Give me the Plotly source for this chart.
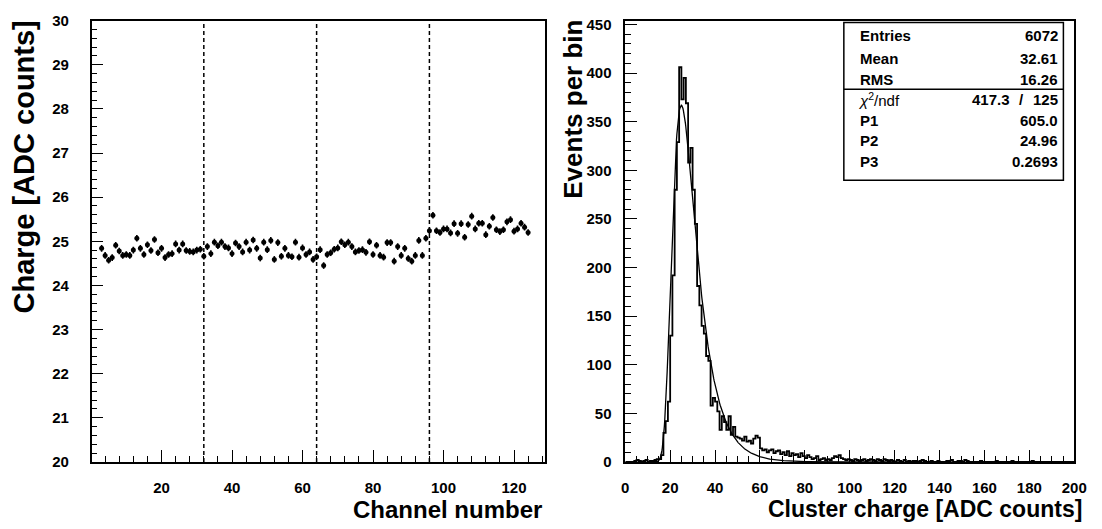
import numpy as np
import plotly.graph_objects as go

W, H = 1102, 529

# ---------------- left panel: mean charge per channel ----------------
channels = list(range(3, 125))
charge = [
    24.84, 24.68, 24.57, 24.63, 24.91, 24.78, 24.68, 24.70, 24.68, 24.80,   # 3-12
    25.07, 24.84, 24.70, 24.92, 24.79, 25.04, 24.74, 24.84, 24.63, 24.70,   # 13-22
    24.72, 24.94, 24.80, 24.94, 24.79, 24.77, 24.76, 24.80, 24.82, 24.66,   # 23-32
    24.88, 24.72, 24.98, 24.90, 24.98, 24.88, 24.85, 24.72, 24.96, 24.88,   # 33-42
    24.76, 24.98, 24.80, 25.03, 24.84, 24.62, 24.98, 24.81, 25.02, 24.59,   # 43-52
    24.97, 24.66, 24.84, 24.68, 24.65, 24.98, 24.64, 24.85, 24.70, 24.76,   # 53-62
    24.59, 24.65, 24.81, 24.45, 24.70, 24.74, 24.82, 24.85, 24.99, 24.92,   # 63-72
    24.98, 24.88, 24.76, 24.79, 24.81, 24.75, 24.99, 24.70, 24.91, 24.68,   # 73-82
    24.64, 24.97, 24.97, 24.55, 24.88, 24.68, 24.84, 24.61, 24.55, 24.68,   # 83-92
    25.02, 24.68, 25.07, 25.24, 25.59, 25.24, 25.20, 25.28, 25.28, 25.19,   # 93-102
    25.40, 25.18, 25.40, 25.09, 25.38, 25.57, 25.28, 25.41, 25.41, 25.15,   # 103-112
    25.34, 25.54, 25.26, 25.22, 25.26, 25.44, 25.49, 25.23, 25.28, 25.41,   # 113-122
    25.32, 25.20,                                                           # 123-124
]
charge_err = [0.075] * len(charge)
chip_boundaries = [32, 64, 96]

left_xticks = [20, 40, 60, 80, 100, 120]
left_yticks = [20, 21, 22, 23, 24, 25, 26, 27, 28, 29, 30]

# ---------------- right panel: cluster charge spectrum ----------------
bin_edges = list(range(0, 201))
counts = [
    0, 0, 0, 0, 1, 2, 1, 0, 1, 2,                       # 0-9
    0, 1, 1, 2, 3, 3, 7, 30, 42, 62,                    # 10-19
    130, 192, 280, 329, 406, 373, 395, 369, 308, 323,   # 20-29
    280, 245, 181, 161, 140, 132, 109, 104, 58, 66,     # 30-39
    62, 52, 33, 47, 41, 33, 47, 28, 36, 26,             # 40-49
    25, 24, 22, 26, 21, 22, 19, 24, 27, 25,             # 50-59
    14, 12, 13, 10, 12, 13, 9, 11, 12, 8,               # 60-69
    10, 7, 11, 6, 9, 7, 8, 5, 9, 6,                     # 70-79
    4, 7, 5, 3, 4, 6, 2, 3, 4, 2,                       # 80-89
    3, 2, 4, 6, 5, 7, 4, 3, 2, 3,                       # 90-99
    2, 1, 3, 2, 1, 2, 3, 1, 2, 3,                       # 100-109
    2, 1, 3, 2, 1, 3, 2, 1, 2, 1,                       # 110-119
    0, 2, 1, 0, 2, 0, 1, 0, 1, 1,                       # 120-129
    0, 1, 2, 1, 0, 0, 1, 0, 0, 1,                       # 130-139
    0, 0, 0, 1, 1, 2, 0, 0, 1, 1,                       # 140-149
    0, 2, 1, 0, 0, 0, 0, 0, 1, 0,                       # 150-159
    0, 0, 0, 0, 0, 1, 0, 0, 0, 0,                       # 160-169
    0, 0, 1, 0, 0, 0, 0, 0, 0, 0,                       # 170-179
    0, 1, 0, 0, 0, 0, 0, 0, 0, 0,                       # 180-189
    0, 0, 0, 0, 0, 0, 0, 0, 0, 0,                       # 190-199
]
right_xticks = [0, 20, 40, 60, 80, 100, 120, 140, 160, 180, 200]
right_yticks = [0, 50, 100, 150, 200, 250, 300, 350, 400, 450]

# fit parameters (Moyal-type approximation of the Landau shape)
P1, P2, P3 = 605.0, 24.96, 0.2693
fit_range = (12.0, 120.0)

stats_rows = [
    ("Entries", "6072"),
    ("Mean", "32.61"),
    ("RMS", "16.26"),
]
fit_rows = [
    ("P1", "605.0"),
    ("P2", "24.96"),
    ("P3", "0.2693"),
]
chi2_text, ndf_text = "417.3", "125"

# ---------------- geometry (pixels -> paper) ----------------
def px(x):
    return x / W


def py(y):
    return 1 - y / H


frame_top, frame_bot = 12, 468
left_x0, left_x1 = 89, 549
right_x0, right_x1 = 631, 1087

FONT = "Liberation Sans, Arial, Helvetica, sans-serif"
tickfont = dict(family=FONT, size=15, color="black")


def bold_labels(vals):
    return [f"<b>{v}</b>" for v in vals]


fig = go.Figure()

# left: data points with error bars
fig.add_trace(go.Scatter(
    x=channels, y=charge,
    mode="markers",
    marker=dict(color="black", size=5, symbol="circle"),
    error_y=dict(type="data", array=charge_err, visible=True,
                 color="black", thickness=1.6, width=0),
    xaxis="x", yaxis="y", showlegend=False, hoverinfo="skip",
))

# dashed chip boundaries
for xb in chip_boundaries:
    fig.add_shape(type="line", xref="x", yref="y", x0=xb, x1=xb, y0=20, y1=30,
                  line=dict(color="black", width=1.5, dash="4px,3px"))

# right: histogram outline
step_y = counts + [counts[-1]]
fig.add_trace(go.Scatter(
    x=bin_edges, y=step_y, mode="lines",
    line=dict(color="black", width=1.8, shape="hv"),
    xaxis="x2", yaxis="y2", showlegend=False, hoverinfo="skip",
))

# fit curve
xf = np.linspace(fit_range[0], fit_range[1], 600)
lam = P3 * (xf - P2)
yf = P1 * np.exp(-0.5 * (lam + np.exp(-lam)))
fig.add_trace(go.Scatter(
    x=xf, y=yf, mode="lines",
    line=dict(color="black", width=1.3),
    xaxis="x2", yaxis="y2", showlegend=False, hoverinfo="skip",
))

axis_common = dict(
    showgrid=False, zeroline=False, showline=True, linecolor="black",
    linewidth=1.5, mirror=True, ticks="inside", ticklen=12, tickwidth=1,
    tickcolor="black", tickfont=tickfont, tickmode="array",
)

fig.update_layout(
    width=W, height=H,
    margin=dict(l=0, r=0, t=0, b=0),
    paper_bgcolor="white", plot_bgcolor="white",
    xaxis=dict(domain=[px(left_x0), px(left_x1)], range=[0.17, 128.66],
               tickvals=left_xticks, ticktext=bold_labels(left_xticks), anchor="y",
               minor=dict(dtick=4, tick0=0, ticks="inside", ticklen=6, tickcolor="black"),
               ticklabelstandoff=11, **axis_common),
    yaxis=dict(domain=[py(frame_bot), py(frame_top)], range=[20, 30],
               tickvals=left_yticks, ticktext=bold_labels(left_yticks), anchor="x",
               minor=dict(dtick=0.2, tick0=20, ticks="inside", ticklen=6, tickcolor="black"),
               ticklabelstandoff=18, **axis_common),
    xaxis2=dict(domain=[px(right_x0), px(right_x1)], range=[0, 200],
                tickvals=right_xticks, ticktext=bold_labels(right_xticks), anchor="y2",
                minor=dict(dtick=5, tick0=0, ticks="inside", ticklen=6, tickcolor="black"),
                ticklabelstandoff=11, **axis_common),
    yaxis2=dict(domain=[py(frame_bot), py(frame_top)], range=[0, 454],
                tickvals=right_yticks, ticktext=bold_labels(right_yticks), anchor="x2",
                minor=dict(dtick=10, tick0=0, ticks="inside", ticklen=6, tickcolor="black"),
                ticklabelstandoff=9, **axis_common),
)

titlefont = dict(family=FONT, color="black", weight="bold")
annotations = [
    dict(text="Channel number", x=px(450), y=py(517), xanchor="center", yanchor="middle",
         font=dict(titlefont, size=24)),
    dict(text="Cluster charge [ADC counts]", x=px(935), y=py(517), xanchor="center",
         yanchor="middle", font=dict(titlefont, size=23)),
    dict(text="Charge [ADC counts]", x=px(20), y=py(163), xanchor="center", yanchor="middle",
         textangle=-90, font=dict(titlefont, size=29)),
    dict(text="Events per bin", x=px(578), y=py(104), xanchor="center", yanchor="middle",
         textangle=-90, font=dict(titlefont, size=26)),
]

# statistics box
box_x0, box_x1, box_y0, box_y1, sep_y = 853, 1076, 14, 177, 83
fig.add_shape(type="rect", xref="paper", yref="paper",
              x0=px(box_x0), x1=px(box_x1), y0=py(box_y1), y1=py(box_y0),
              line=dict(color="black", width=1.5), fillcolor="white")
fig.add_shape(type="line", xref="paper", yref="paper",
              x0=px(box_x0), x1=px(box_x1), y0=py(sep_y), y1=py(sep_y),
              line=dict(color="black", width=1.5))

statfont = dict(family=FONT, size=15, color="black", weight="bold")
row_y_top = [27.7, 50.7, 73.3]
for (lab, val), yy in zip(stats_rows, row_y_top):
    annotations.append(dict(text=lab, x=px(867), y=py(yy), xanchor="left", yanchor="middle",
                            font=statfont))
    annotations.append(dict(text=val, x=px(1073), y=py(yy), xanchor="right", yanchor="middle",
                            font=statfont))

annotations.append(dict(text="<i>χ</i><sup>2</sup>/ndf", x=px(865), y=py(93.5),
                        xanchor="left", yanchor="middle",
                        font=dict(family=FONT, size=15, color="black")))
annotations.append(dict(text=chi2_text, x=px(1024), y=py(93.5), xanchor="right",
                        yanchor="middle", font=statfont))
annotations.append(dict(text="/", x=px(1033), y=py(93.5), xanchor="center",
                        yanchor="middle", font=statfont))
annotations.append(dict(text=ndf_text, x=px(1073), y=py(93.5), xanchor="right",
                        yanchor="middle", font=statfont))

row_y_bot = [115, 136, 157.3]
for (lab, val), yy in zip(fit_rows, row_y_bot):
    annotations.append(dict(text=lab, x=px(867), y=py(yy), xanchor="left", yanchor="middle",
                            font=statfont))
    annotations.append(dict(text=val, x=px(1073), y=py(yy), xanchor="right", yanchor="middle",
                            font=statfont))

for a in annotations:
    a.setdefault("xref", "paper")
    a.setdefault("yref", "paper")
    a.setdefault("showarrow", False)
fig.update_layout(annotations=annotations)

fig.write_html("out.html")
